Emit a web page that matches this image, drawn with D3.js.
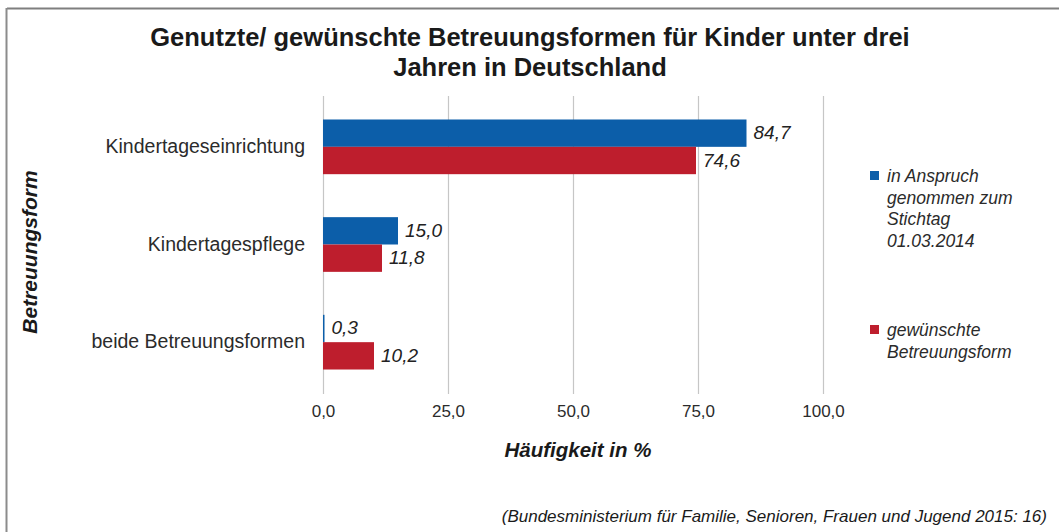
<!DOCTYPE html>
<html>
<head>
<meta charset="utf-8">
<script src="https://cdn.jsdelivr.net/npm/d3@7"></script>
<style>
  html, body { margin: 0; background: #fff; overflow: hidden; }
  svg { display: block; font-family: "Liberation Sans", Arial, sans-serif; }
</style>
</head>
<body>
<svg id="chart"></svg>
<script>
const svg_width = 1059;
const svg_height = 532;

// data
const categories = ['Kindertageseinrichtung', 'Kindertagespflege', 'beide Betreuungsformen'];
const series = ['genutzt', 'gewuenscht'];
const genutzt = [84.7, 15.0, 0.3];
const gewuenscht = [74.6, 11.8, 10.2];
const tickValues = [0, 25, 50, 75, 100];
const legendLines = [
	['in Anspruch', 'genommen zum', 'Stichtag', '01.03.2014'],
	['gewünschte', 'Betreuungsform']
];
const titleLines = ['Genutzte/ gewünschte Betreuungsformen für Kinder unter drei', 'Jahren in Deutschland'];
const colors = ['#0c5ea9', '#be1e2d'];

const svg = d3.select('#chart')
	.attr('width', svg_width)
	.attr('height', svg_height);

svg.append('rect').attr('width', svg_width).attr('height', svg_height).attr('fill', '#fff');

// frame (top and left edge)
svg.append('line').attr('x1', 7).attr('x2', svg_width).attr('y1', 8.5).attr('y2', 8.5)
	.attr('stroke', '#7f7f7f').attr('stroke-width', 2);
svg.append('line').attr('x1', 6.5).attr('x2', 6.5).attr('y1', 8).attr('y2', svg_height)
	.attr('stroke', '#8c8c8c').attr('stroke-width', 2);

const margin = {top: 98, left: 323};
const innerWidth = 500;
const innerHeight = 293;

const g = svg.append('g').attr('transform', `translate(${margin.left}, ${margin.top})`);

const x = d3.scaleLinear().domain([0, 100]).range([0, innerWidth]);
const y = d3.scaleBand().domain(categories).range([0, innerHeight])
	.paddingInner(0.44).paddingOuter(0.22);
const ySub = d3.scaleBand().domain(series).range([0, y.bandwidth()]);

// gridlines
g.selectAll('.grid')
	.data(tickValues)
	.enter().append('line')
	.attr('class', 'grid')
	.attr('x1', d => Math.round(x(d)) + 0.5)
	.attr('x2', d => Math.round(x(d)) + 0.5)
	.attr('y1', -2)
	.attr('y2', innerHeight + 3)
	.attr('stroke', '#c6c6c6')
	.attr('stroke-width', 1.2);

// x axis labels
const fmt = d => d3.format('.1f')(d).replace('.', ',');
const xAxis = d3.axisBottom(x).tickValues(tickValues).tickSize(0).tickPadding(0).tickFormat(fmt);
const xa = g.append('g').attr('transform', `translate(0, ${innerHeight + 14})`).call(xAxis);
xa.select('.domain').remove();
xa.selectAll('text').attr('font-size', '17px').attr('fill', '#2b2b2b')
	.attr('font-family', '"Liberation Sans", Arial, sans-serif');

// y axis labels
const yAxis = d3.axisLeft(y).tickSize(0).tickPadding(18);
const ya = g.append('g').call(yAxis);
ya.select('.domain').remove();
ya.selectAll('text').attr('font-size', '19.5px').attr('fill', '#2b2b2b')
	.attr('font-family', '"Liberation Sans", Arial, sans-serif');

// bars
const rows = categories.map((c, i) => ({cat: c, values: [genutzt[i], gewuenscht[i]]}));
const groups = g.selectAll('.group')
	.data(rows)
	.enter().append('g')
	.attr('transform', d => `translate(0, ${y(d.cat)})`);

groups.selectAll('rect')
	.data(d => d.values.map((v, i) => ({s: series[i], v: v, i: i})))
	.enter().append('rect')
	.attr('x', 0)
	.attr('y', d => ySub(d.s))
	.attr('width', d => x(d.v))
	.attr('height', ySub.bandwidth())
	.attr('fill', d => colors[d.i]);

groups.selectAll('.values')
	.data(d => d.values.map((v, i) => ({s: series[i], v: v, i: i})))
	.enter().append('text')
	.attr('class', 'values')
	.attr('x', d => x(d.v) + 7)
	.attr('y', d => ySub(d.s) + ySub.bandwidth() / 2 + 6)
	.attr('font-size', '19px')
	.attr('font-style', 'italic')
	.attr('fill', '#222')
	.text(d => fmt(d.v));

// title
svg.append('text')
	.attr('x', 530).attr('y', 46)
	.attr('text-anchor', 'middle')
	.attr('font-size', '25.5px').attr('font-weight', 'bold').attr('fill', '#1a1a1a')
	.selectAll('tspan')
	.data(titleLines)
	.enter().append('tspan')
	.attr('x', 530)
	.attr('dy', (d, i) => i === 0 ? 0 : 30)
	.text(d => d);

// axis titles
svg.append('text')
	.attr('transform', 'translate(37, 252) rotate(-90)')
	.attr('text-anchor', 'middle')
	.attr('font-size', '21px').attr('font-weight', 'bold').attr('font-style', 'italic')
	.attr('fill', '#1a1a1a')
	.text('Betreuungsform');

svg.append('text')
	.attr('x', 578).attr('y', 457)
	.attr('text-anchor', 'middle')
	.attr('font-size', '20.5px').attr('font-weight', 'bold').attr('font-style', 'italic')
	.attr('fill', '#1a1a1a')
	.text('Häufigkeit in %');

// legend
const legendY = [182, 336];
const legend = svg.selectAll('.legend')
	.data(legendLines)
	.enter().append('g')
	.attr('class', 'legend')
	.attr('transform', (d, i) => `translate(870, ${legendY[i]})`);

legend.append('rect')
	.attr('x', 0).attr('y', -11)
	.attr('width', 9).attr('height', 9)
	.attr('fill', (d, i) => colors[i]);

legend.append('text')
	.attr('font-size', '17.5px').attr('font-style', 'italic').attr('fill', '#2b2b2b')
	.selectAll('tspan')
	.data(d => d)
	.enter().append('tspan')
	.attr('x', 17)
	.attr('y', (d, i) => i * 21.7)
	.text(d => d);

// source
svg.append('text')
	.attr('x', 1047).attr('y', 522)
	.attr('text-anchor', 'end')
	.attr('font-size', '17px').attr('font-style', 'italic').attr('fill', '#1a1a1a')
	.text('(Bundesministerium für Familie, Senioren, Frauen und Jugend 2015: 16)');
</script>
</body>
</html>
